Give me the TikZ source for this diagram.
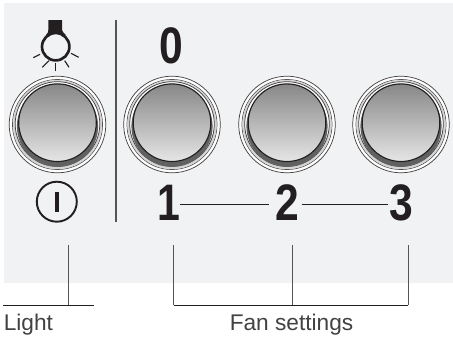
\documentclass[tikz,border=0pt]{standalone}
\usepackage{graphicx}
\usepackage{fontspec}
\setmainfont{Liberation Sans}
\definecolor{panel}{HTML}{F1F2F4}
\definecolor{ink}{HTML}{231F20}
\definecolor{wire}{HTML}{555557}
\tikzset{x=0.75pt,y=-0.75pt,
  wire/.style={draw=wire,line width=0.65pt},
  hline/.style={draw=ink,line width=0.7pt},
  digit/.style={font=\fontsize{38.5}{38.5}\selectfont\bfseries,text=ink,inner sep=0pt},
  caption/.style={font=\fontsize{17}{18}\selectfont,text=ink!85,inner sep=0pt,anchor=base west},
  conn/.style={draw=ink,line width=0.8pt},
  ray/.style={draw=ink,line width=0.85pt}}
\newcommand{\pushbutton}[2]{%
  \fill[white] (#1,#2) circle [radius=48.5];
  \draw[draw=ink!85,line width=0.55pt] (#1,#2) circle [radius=48.3];
  \draw[draw=ink!85,line width=0.55pt] (#1,#2) circle [radius=45];
  \fill[black!17] (#1,#2) circle [radius=44.7];
  \draw[draw=ink!85,line width=0.55pt,fill=white] (#1,#2-0.5) circle [radius=42.3];
  \fill[black!62] (#1,#2+1.8) circle [radius=40.6];
  \path[top color=black!47,bottom color=black!10] (#1,#2-1.8) circle [radius=38.8];
  \draw[draw=ink,line width=0.85pt] (#1,#2-1.8) circle [radius=38.8];
}
\begin{document}
\begin{tikzpicture}
\useasboundingbox (0,0) rectangle (453,336);
\fill[white] (0,0) rectangle (453,336);
\fill[panel] (4,3.3) rectangle (453,282.7);
\draw[draw=wire,line width=0.95pt] (116,20) -- (116,221.7);
\pushbutton{57.5}{124.5}
\pushbutton{172}{124.5}
\pushbutton{287}{124.5}
\pushbutton{401}{124.5}
% bulb
\fill[ink] (48.3,20) -- (62,20) -- (62,30) .. controls (62,32) and (64,33) .. (66,35) -- (46,35) .. controls (48,33) and (48.3,32) .. (48.3,30) -- cycle;
\draw[draw=ink,line width=2pt,fill=panel] (55.7,46.7) circle [radius=13.7];
\draw[ray] (55.8,62.5) -- (55.8,71);
\draw[ray] (49,60.7) -- (42.3,67.3);
\draw[ray] (64.7,60.7) -- (69,67.3);
\draw[ray] (40,54.3) -- (33.3,57.7);
\draw[ray] (71,53.3) -- (78.7,57.3);
% power symbol
\node (power) [circle,draw=ink,line width=1.45pt,minimum size=30pt,inner sep=0pt] at (56.8,201.7) {};
\fill[ink] (54.6,191.7) rectangle (59.4,212.3);
% digits
\node (zero) [digit] at (171,45.7) {\scalebox{0.83}[1]{0}};
\node (one) [digit] at (168.5,203) {\scalebox{0.8}[1]{1}};
\node (two) [digit] at (287.5,203) {\scalebox{0.83}[1]{2}};
\node (three) [digit] at (401.5,203) {\scalebox{0.83}[1]{3}};
\coordinate (a1) at (180,204.7);
\coordinate (a2) at (269,204.7);
\coordinate (b1) at (301.7,204.7);
\coordinate (b2) at (388,204.7);
\draw[conn] (a1) -- (a2);
\draw[conn] (b1) -- (b2);
% leaders
\coordinate (lightL) at (3.3,305.3);
\coordinate (lightR) at (94.3,305.3);
\coordinate (lightT) at (68,245);
\coordinate (lightB) at (68,305.3);
\draw[wire] (lightT) -- (lightB);
\draw[hline] (lightL) -- (lightR);
\coordinate (f1) at (173.7,245);
\coordinate (f1b) at (173.7,305.3);
\coordinate (f2) at (292.7,245);
\coordinate (f2b) at (292.7,305.3);
\coordinate (f3) at (408,245);
\coordinate (f3b) at (408,305.3);
\draw[wire] (f1) -- (f1b);
\draw[wire] (f2) -- (f2b);
\draw[wire] (f3) -- (f3b);
\draw[hline] (f1b) -- (f3b);
\node (light) [caption] at (3.5,330) {Light};
\node (fan) [caption] at (229.5,330) {Fan settings};
\end{tikzpicture}
\end{document}
